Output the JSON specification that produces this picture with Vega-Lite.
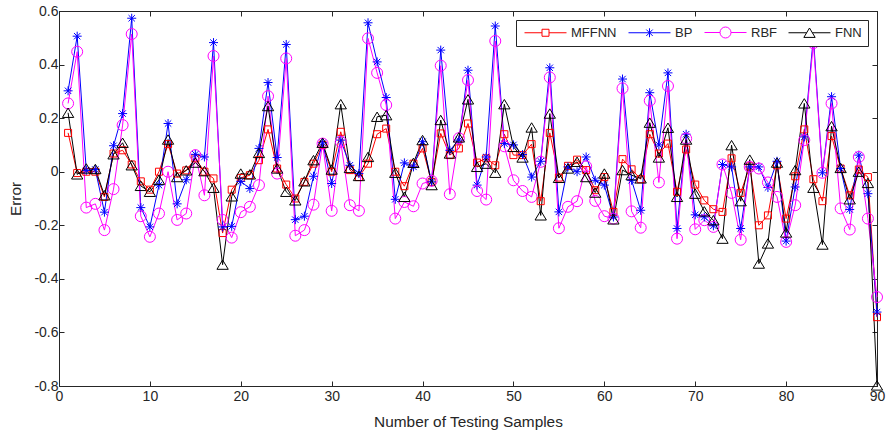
{
  "$schema": "https://vega.github.io/schema/vega-lite/v6.json",
  "width": 818,
  "height": 375,
  "autosize": "none",
  "padding": {"left": 59, "top": 11, "right": 9, "bottom": 48},
  "background": "white",
  "data": {"values": [
    {"k":1,"MFFNN":0.145,"BP":0.302,"RBF":0.255,"FNN":0.22},
    {"k":2,"MFFNN":-0.005,"BP":0.506,"RBF":0.448,"FNN":-0.01},
    {"k":3,"MFFNN":0,"BP":0.005,"RBF":-0.134,"FNN":0.012},
    {"k":4,"MFFNN":0,"BP":0.008,"RBF":-0.12,"FNN":0.01},
    {"k":5,"MFFNN":-0.094,"BP":-0.151,"RBF":-0.218,"FNN":-0.088},
    {"k":6,"MFFNN":0.068,"BP":0.097,"RBF":-0.065,"FNN":0.065},
    {"k":7,"MFFNN":0.08,"BP":0.217,"RBF":0.174,"FNN":0.108},
    {"k":8,"MFFNN":0.027,"BP":0.573,"RBF":0.514,"FNN":0.024},
    {"k":9,"MFFNN":-0.036,"BP":-0.134,"RBF":-0.166,"FNN":-0.053},
    {"k":10,"MFFNN":-0.067,"BP":-0.206,"RBF":-0.243,"FNN":-0.075},
    {"k":11,"MFFNN":0,"BP":-0.05,"RBF":-0.156,"FNN":-0.03},
    {"k":12,"MFFNN":0.103,"BP":0.18,"RBF":0,"FNN":0.12},
    {"k":13,"MFFNN":-0.007,"BP":-0.12,"RBF":-0.18,"FNN":-0.02},
    {"k":14,"MFFNN":0.005,"BP":-0.03,"RBF":-0.156,"FNN":0.005},
    {"k":15,"MFFNN":0.05,"BP":0.065,"RBF":0.062,"FNN":0.034},
    {"k":16,"MFFNN":0,"BP":0.055,"RBF":-0.088,"FNN":0.002},
    {"k":17,"MFFNN":-0.025,"BP":0.482,"RBF":0.432,"FNN":-0.06},
    {"k":18,"MFFNN":-0.229,"BP":-0.206,"RBF":-0.18,"FNN":-0.347},
    {"k":19,"MFFNN":-0.067,"BP":-0.204,"RBF":-0.246,"FNN":-0.092},
    {"k":20,"MFFNN":-0.023,"BP":-0.036,"RBF":-0.151,"FNN":-0.007},
    {"k":21,"MFFNN":-0.013,"BP":-0.063,"RBF":-0.131,"FNN":-0.01},
    {"k":22,"MFFNN":0.043,"BP":0.087,"RBF":-0.05,"FNN":0.07},
    {"k":23,"MFFNN":0.158,"BP":0.333,"RBF":0.282,"FNN":0.245},
    {"k":24,"MFFNN":0.012,"BP":0.053,"RBF":-0.007,"FNN":0.012},
    {"k":25,"MFFNN":-0.048,"BP":0.475,"RBF":0.423,"FNN":-0.075},
    {"k":26,"MFFNN":-0.1,"BP":-0.179,"RBF":-0.239,"FNN":-0.107},
    {"k":27,"MFFNN":-0.038,"BP":-0.166,"RBF":-0.218,"FNN":-0.036},
    {"k":28,"MFFNN":0.03,"BP":-0.017,"RBF":-0.123,"FNN":0.043},
    {"k":29,"MFFNN":0.1,"BP":0.108,"RBF":0.105,"FNN":0.108},
    {"k":30,"MFFNN":0,"BP":-0.044,"RBF":-0.146,"FNN":0.008},
    {"k":31,"MFFNN":0.149,"BP":0.118,"RBF":0.112,"FNN":0.252},
    {"k":32,"MFFNN":0.006,"BP":0.024,"RBF":-0.125,"FNN":0.014},
    {"k":33,"MFFNN":-0.02,"BP":-0.007,"RBF":-0.146,"FNN":-0.016},
    {"k":34,"MFFNN":0.03,"BP":0.556,"RBF":0.498,"FNN":0.055},
    {"k":35,"MFFNN":0.14,"BP":0.41,"RBF":0.369,"FNN":0.205},
    {"k":36,"MFFNN":0.161,"BP":0.277,"RBF":0.249,"FNN":0.211},
    {"k":37,"MFFNN":0,"BP":-0.103,"RBF":-0.175,"FNN":-0.004},
    {"k":38,"MFFNN":-0.054,"BP":0.033,"RBF":-0.113,"FNN":-0.094},
    {"k":39,"MFFNN":0.03,"BP":0.018,"RBF":-0.129,"FNN":0.033},
    {"k":40,"MFFNN":0.087,"BP":0.112,"RBF":-0.044,"FNN":0.118},
    {"k":41,"MFFNN":-0.038,"BP":-0.038,"RBF":-0.034,"FNN":-0.05},
    {"k":42,"MFFNN":0.143,"BP":0.454,"RBF":0.396,"FNN":0.193},
    {"k":43,"MFFNN":0.062,"BP":0.08,"RBF":-0.084,"FNN":0.068},
    {"k":44,"MFFNN":0.087,"BP":0.118,"RBF":0.125,"FNN":0.128},
    {"k":45,"MFFNN":0.18,"BP":0.379,"RBF":0.342,"FNN":0.27},
    {"k":46,"MFFNN":0.034,"BP":-0.05,"RBF":-0.072,"FNN":0.018},
    {"k":47,"MFFNN":0.05,"BP":0.055,"RBF":-0.104,"FNN":0.03},
    {"k":48,"MFFNN":0.024,"BP":0.544,"RBF":0.488,"FNN":-0.004},
    {"k":49,"MFFNN":0.14,"BP":0.105,"RBF":0.095,"FNN":0.252},
    {"k":50,"MFFNN":0.062,"BP":0.1,"RBF":-0.032,"FNN":0.093},
    {"k":51,"MFFNN":0.062,"BP":0.064,"RBF":-0.072,"FNN":0.053},
    {"k":52,"MFFNN":0.103,"BP":-0.02,"RBF":-0.094,"FNN":0.165},
    {"k":53,"MFFNN":-0.11,"BP":0.039,"RBF":0.037,"FNN":-0.163},
    {"k":54,"MFFNN":0.145,"BP":0.388,"RBF":0.352,"FNN":0.217},
    {"k":55,"MFFNN":-0.022,"BP":-0.15,"RBF":-0.211,"FNN":-0.023},
    {"k":56,"MFFNN":0.022,"BP":0.018,"RBF":-0.131,"FNN":0.012},
    {"k":57,"MFFNN":0.045,"BP":0,"RBF":-0.11,"FNN":0.037},
    {"k":58,"MFFNN":0.006,"BP":0.055,"RBF":0.02,"FNN":-0.02},
    {"k":59,"MFFNN":-0.069,"BP":-0.032,"RBF":-0.109,"FNN":-0.078},
    {"k":60,"MFFNN":-0.02,"BP":-0.05,"RBF":-0.166,"FNN":-0.007},
    {"k":61,"MFFNN":-0.15,"BP":-0.169,"RBF":-0.175,"FNN":-0.178},
    {"k":62,"MFFNN":0.047,"BP":0.346,"RBF":0.311,"FNN":0.006},
    {"k":63,"MFFNN":0.009,"BP":-0.032,"RBF":-0.148,"FNN":-0.013},
    {"k":64,"MFFNN":-0.028,"BP":-0.144,"RBF":-0.209,"FNN":-0.025},
    {"k":65,"MFFNN":0.14,"BP":0.295,"RBF":0.265,"FNN":0.183},
    {"k":66,"MFFNN":0.068,"BP":0.1,"RBF":-0.04,"FNN":0.053},
    {"k":67,"MFFNN":0.105,"BP":0.369,"RBF":0.32,"FNN":0.164},
    {"k":68,"MFFNN":-0.075,"BP":-0.212,"RBF":-0.25,"FNN":-0.094},
    {"k":69,"MFFNN":0.083,"BP":0.14,"RBF":0.124,"FNN":0.12},
    {"k":70,"MFFNN":-0.048,"BP":-0.161,"RBF":-0.215,"FNN":-0.082},
    {"k":71,"MFFNN":-0.107,"BP":-0.169,"RBF":-0.181,"FNN":-0.148},
    {"k":72,"MFFNN":-0.14,"BP":-0.202,"RBF":-0.206,"FNN":-0.181},
    {"k":73,"MFFNN":-0.15,"BP":0.027,"RBF":0.027,"FNN":-0.25},
    {"k":74,"MFFNN":0.05,"BP":0.018,"RBF":-0.079,"FNN":0.099},
    {"k":75,"MFFNN":-0.079,"BP":-0.212,"RBF":-0.254,"FNN":-0.11},
    {"k":76,"MFFNN":0.02,"BP":0.018,"RBF":0.018,"FNN":0.045},
    {"k":77,"MFFNN":-0.2,"BP":0.018,"RBF":0.012,"FNN":-0.343},
    {"k":78,"MFFNN":-0.163,"BP":-0.059,"RBF":-0.04,"FNN":-0.268},
    {"k":79,"MFFNN":0.024,"BP":0.039,"RBF":-0.094,"FNN":0.034},
    {"k":80,"MFFNN":-0.175,"BP":-0.259,"RBF":-0.262,"FNN":-0.227},
    {"k":81,"MFFNN":-0.017,"BP":-0.057,"RBF":-0.125,"FNN":0.006},
    {"k":82,"MFFNN":0.158,"BP":0.13,"RBF":0.118,"FNN":0.255},
    {"k":83,"MFFNN":-0.028,"BP":0.503,"RBF":0.48,"FNN":-0.06},
    {"k":84,"MFFNN":-0.11,"BP":-0.004,"RBF":-0.004,"FNN":-0.272},
    {"k":85,"MFFNN":0.133,"BP":0.28,"RBF":0.255,"FNN":0.17},
    {"k":86,"MFFNN":0.012,"BP":0.012,"RBF":-0.137,"FNN":0.014},
    {"k":87,"MFFNN":-0.088,"BP":-0.141,"RBF":-0.216,"FNN":-0.103},
    {"k":88,"MFFNN":0.008,"BP":0.062,"RBF":0.055,"FNN":0},
    {"k":89,"MFFNN":-0.02,"BP":-0.082,"RBF":-0.175,"FNN":-0.042},
    {"k":90,"MFFNN":-0.543,"BP":-0.524,"RBF":-0.468,"FNN":-0.798}
  ]},
  "transform": [{"fold": ["MFFNN", "BP", "RBF", "FNN"], "as": ["model", "err"]}],
  "layer": [
    {
      "mark": {"type": "line", "strokeWidth": 1},
      "encoding": {
        "x": {"field": "k", "type": "quantitative", "scale": {"domain": [0, 90], "nice": false, "zero": false},
              "axis": {"values": [0,10,20,30,40,50,60,70,80,90], "title": "Number of Testing Samples", "orient": "bottom", "labelPadding": 8, "titlePadding": 11}},
        "y": {"field": "err", "type": "quantitative", "scale": {"domain": [-0.8, 0.6], "nice": false, "zero": false},
              "axis": {"values": [-0.8,-0.6,-0.4,-0.2,0,0.2,0.4,0.6], "title": "Error", "orient": "left", "titlePadding": 10,
                       "labelExpr": "datum.value == 0 ? '0' : (datum.value < 0 ? '-' + format(-datum.value, '.1f') : format(datum.value, '.1f'))"}},
        "color": {"field": "model", "type": "nominal",
                  "scale": {"domain": ["MFFNN", "BP", "RBF", "FNN"], "range": ["#FF0000", "#0000FF", "#FF00FF", "#000000"]},
                  "legend": {"encode": {"symbols": {"update": {
                      "fill": {"value": "transparent"},
                      "shape": {"signal": "datum.value === 'MFFNN' ? 'M-4.2,0H-0.7M0.7,0H4.2M-0.7,-0.7H0.7V0.7H-0.7Z' : datum.value === 'BP' ? 'M-4.2,0H4.2M0,-0.9V0.9M-0.64,-0.64L0.64,0.64M-0.64,0.64L0.64,-0.64' : datum.value === 'RBF' ? 'M-4.2,0H-1.1M1.1,0H4.2M-1.1,0A1.1,1.1 0 1,0 1.1,0A1.1,1.1 0 1,0 -1.1,0Z' : 'M-4.2,0H-0.57M0.57,0H4.2M0,-0.95L1.13,0.93L-1.13,0.93Z'"}
                  }}}}}
      }
    },
    {
      "mark": {"type": "point", "filled": false, "strokeWidth": 1, "opacity": 1, "size": 100},
      "encoding": {
        "x": {"field": "k", "type": "quantitative", "axis": null},
        "y": {"field": "err", "type": "quantitative", "axis": null},
        "color": {"field": "model", "type": "nominal",
                  "scale": {"domain": ["MFFNN", "BP", "RBF", "FNN"], "range": ["#FF0000", "#0000FF", "#FF00FF", "#000000"]},
                  "legend": {"encode": {"symbols": {"update": {
                      "fill": {"value": "transparent"},
                      "shape": {"signal": "datum.value === 'MFFNN' ? 'M-4.2,0H-0.7M0.7,0H4.2M-0.7,-0.7H0.7V0.7H-0.7Z' : datum.value === 'BP' ? 'M-4.2,0H4.2M0,-0.9V0.9M-0.64,-0.64L0.64,0.64M-0.64,0.64L0.64,-0.64' : datum.value === 'RBF' ? 'M-4.2,0H-1.1M1.1,0H4.2M-1.1,0A1.1,1.1 0 1,0 1.1,0A1.1,1.1 0 1,0 -1.1,0Z' : 'M-4.2,0H-0.57M0.57,0H4.2M0,-0.95L1.13,0.93L-1.13,0.93Z'"}
                  }}}}},
        "shape": {"field": "model", "type": "nominal",
                  "scale": {"domain": ["BP", "MFFNN", "RBF", "FNN"],
                            "range": ["M-0.9,0H0.9M0,-0.9V0.9M-0.64,-0.64L0.64,0.64M-0.64,0.64L0.64,-0.64", "M-0.7,-0.7H0.7V0.7H-0.7Z", "M-1.1,0A1.1,1.1 0 1,0 1.1,0A1.1,1.1 0 1,0 -1.1,0Z", "M0,-0.95L1.13,0.93L-1.13,0.93Z"]},
                  "legend": null}
      }
    },
    {
      "mark": {"type": "point", "opacity": 0},
      "encoding": {
        "x": {"field": "k", "type": "quantitative",
              "axis": {"values": [0,10,20,30,40,50,60,70,80,90], "title": null, "labels": false, "orient": "top"}},
        "y": {"field": "err", "type": "quantitative",
              "axis": {"values": [-0.8,-0.6,-0.4,-0.2,0,0.2,0.4,0.6], "title": null, "labels": false, "orient": "right"}}
      }
    }
  ],
  "resolve": {"axis": {"x": "independent", "y": "independent"}},
  "config": {
    "font": "Liberation Sans",
    "view": {"stroke": "#262626", "strokeWidth": 1},
    "axis": {
      "grid": false, "domainColor": "#262626", "domainWidth": 1, "tickColor": "#262626", "tickWidth": 1,
      "tickSize": -5, "labelColor": "#262626", "titleColor": "#262626", "labelFontSize": 14, "labelFlush": false,
      "titleFontSize": 15.4, "titleFontWeight": "normal", "labelPadding": 6, "titlePadding": 6
    },
    "legend": {
      "title": null, "orient": "top-right", "offset": 9, "direction": "horizontal",
      "fillColor": "white", "strokeColor": "#262626", "padding": 6,
      "labelFontSize": 13, "labelColor": "#262626", "symbolSize": 100, "symbolStrokeWidth": 1,
      "symbolOffset": 17, "labelOffset": 19, "columnPadding": 9,
      "symbolFillColor": "transparent"
    }
  }
}
